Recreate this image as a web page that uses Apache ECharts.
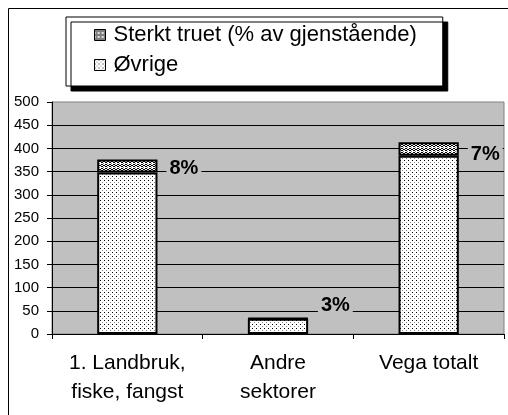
<!DOCTYPE html>
<html>
<head>
<meta charset="utf-8">
<script src="https://cdn.jsdelivr.net/npm/echarts@6/dist/echarts.min.js"></script>
<style>
html, body { margin: 0; padding: 0; background: #fff; }
#chart { width: 508px; height: 415px; }
</style>
</head>
<body>
<div id="chart"></div>
<script>
// data
const categories = ['1. Landbruk,\nfiske, fangst', 'Andre\nsektorer', 'Vega totalt'];
const ovrigeValues = [348, 33, 384];
const sterktValues = [28, 1, 29];
const pctLabels = ['8%', '3%', '7%'];
const seriesNames = ['Sterkt truet (% av gjenstående)', 'Øvrige'];

// label nudges (style only)
const labelOffsets = [[0, 2], [0, -13], [0, 5]];

const FONT = '"Liberation Sans", Arial, sans-serif';

// small tile -> repeating canvas pattern
function makePattern(rows) {
    const h = rows.length, w = rows[0].length;
    const c = document.createElement('canvas');
    c.width = w; c.height = h;
    const ctx = c.getContext('2d');
    ctx.fillStyle = '#fff';
    ctx.fillRect(0, 0, w, h);
    for (let y = 0; y < h; y++) {
        for (let x = 0; x < w; x++) {
            const ch = rows[y][x];
            if (ch === 'X') { ctx.fillStyle = '#000'; ctx.fillRect(x, y, 1, 1); }
            else if (ch === 'o') { ctx.fillStyle = '#888'; ctx.fillRect(x, y, 1, 1); }
        }
    }
    return { image: c, repeat: 'repeat' };
}

const dotsPattern = makePattern([
    'X...',
    '....',
    '..o.',
    '....'
]);
const densePattern = makePattern([
    '.XX.',
    'X..X',
    '.XX.',
    '...o'
]);

const chart = echarts.init(document.getElementById('chart'), null, { renderer: 'canvas' });

const sterktData = sterktValues.map((v, i) => ({
    value: v,
    label: { offset: labelOffsets[i] }
}));

const option = {
    backgroundColor: '#fff',
    animation: false,
    textStyle: { fontFamily: FONT },
    graphic: [{
        type: 'rect',
        silent: true,
        z: -10,
        shape: { x: 8.5, y: 8.5, width: 520, height: 420 },
        style: { fill: null, stroke: '#000', lineWidth: 1 }
    }],
    legend: {
        data: seriesNames,
        orient: 'vertical',
        left: 66,
        top: 17,
        padding: [7, 26, 10, 28],
        itemGap: 8,
        itemWidth: 11,
        itemHeight: 11,
        icon: 'rect',
        backgroundColor: '#fff',
        borderColor: '#000',
        borderWidth: 1,
        shadowColor: '#000',
        shadowBlur: 0,
        shadowOffsetX: 5,
        shadowOffsetY: 5,
        itemStyle: { borderWidth: 1, borderColor: '#000' },
        textStyle: { fontFamily: FONT, fontSize: 22, color: '#000', padding: [0, 0, 0, 3] }
    },
    grid: {
        left: 52,
        right: 4,
        top: 102,
        bottom: 81,
        show: true,
        backgroundColor: '#c0c0c0',
        borderColor: '#808080',
        borderWidth: 1
    },
    xAxis: {
        type: 'category',
        data: categories,
        axisLine: { lineStyle: { color: '#000', width: 1 } },
        axisTick: { show: true, length: 5, lineStyle: { color: '#000' } },
        axisLabel: {
            interval: 0,
            fontFamily: FONT,
            fontSize: 21,
            lineHeight: 29,
            color: '#000',
            margin: 15
        }
    },
    yAxis: {
        type: 'value',
        min: 0,
        max: 500,
        interval: 50,
        axisLine: { show: true, lineStyle: { color: '#000', width: 1 } },
        axisTick: { show: true, length: 5, lineStyle: { color: '#000' } },
        axisLabel: { fontFamily: FONT, fontSize: 15, color: '#000', margin: 13 },
        splitLine: { show: true, showMaxLine: false, lineStyle: { color: '#000', width: 1 } }
    },
    series: [
        {
            name: 'Øvrige',
            type: 'bar',
            stack: 'tot',
            barWidth: '40%',
            data: ovrigeValues,
            itemStyle: { color: dotsPattern, borderColor: '#000', borderWidth: 2 }
        },
        {
            name: 'Sterkt truet (% av gjenstående)',
            type: 'bar',
            stack: 'tot',
            barWidth: '40%',
            data: sterktData,
            itemStyle: { color: densePattern, borderColor: '#000', borderWidth: 2 },
            label: {
                show: true,
                position: 'right',
                distance: 9,
                formatter: p => pctLabels[p.dataIndex],
                fontFamily: FONT,
                fontSize: 20,
                fontWeight: 'bold',
                color: '#000',
                backgroundColor: '#c0c0c0',
                padding: [0, 3]
            }
        }
    ]
};

chart.setOption(option);
</script>
</body>
</html>
